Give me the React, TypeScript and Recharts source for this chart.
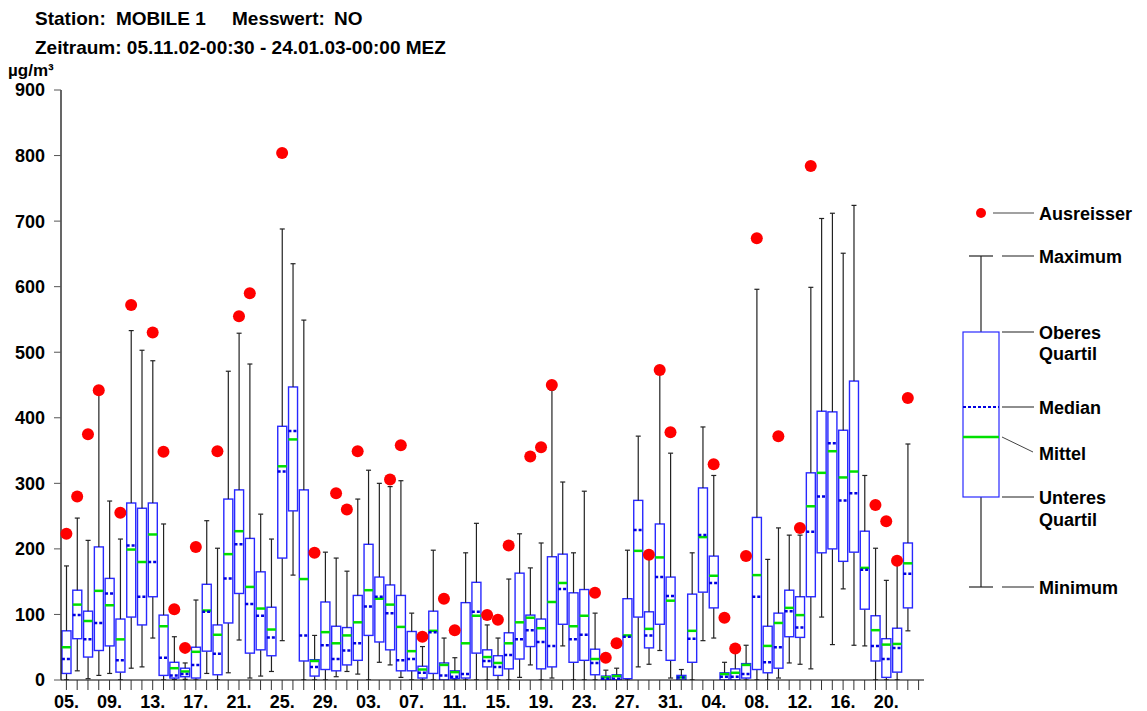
import React from "react";
import { Bar, ComposedChart, Scatter, XAxis, YAxis } from "recharts";

// one entry per day, 05.11.02 .. 23.01.03
const days = [
  "05.11", "06.11", "07.11", "08.11", "09.11", "10.11", "11.11", "12.11", "13.11", "14.11",
  "15.11", "16.11", "17.11", "18.11", "19.11", "20.11", "21.11", "22.11", "23.11", "24.11",
  "25.11", "26.11", "27.11", "28.11", "29.11", "30.11",
  "01.12", "02.12", "03.12", "04.12", "05.12", "06.12", "07.12", "08.12", "09.12", "10.12",
  "11.12", "12.12", "13.12", "14.12", "15.12", "16.12", "17.12", "18.12", "19.12", "20.12",
  "21.12", "22.12", "23.12", "24.12", "25.12", "26.12", "27.12", "28.12", "29.12", "30.12", "31.12",
  "01.01", "02.01", "03.01", "04.01", "05.01", "06.01", "07.01", "08.01", "09.01", "10.01",
  "11.01", "12.01", "13.01", "14.01", "15.01", "16.01", "17.01", "18.01", "19.01", "20.01",
  "21.01", "22.01", "23.01",
];

const mins = [
  0, 14, 2, 7, 10, 0, 18, 20, 64, 0, 1, 1, 0, 10, 0, 11, 61, 3, 6, 13,
  60, 160, 0, 0, 0, 5, 13, 9, 0, 27, 23, 4, 0, 0, 0, 0, 0, 0, 0, 0,
  0, 0, 4, 23, 0, 3, 52, 0, 0, 0, 0, 0, 0, 20, 24, 45, 3, 0, 0, 60,
  64, 0, 0, 0, 0, 0, 3, 26, 24, 17, 96, 54, 139, 53, 52, 0, 0, 0, 75, null,
];
const lowerQuartiles = [
  10, 63, 35, 45, 52, 12, 96, 84, 127, 7, 3, 5, 3, 44, 8, 87, 132, 41, 46, 37,
  186, 258, 29, 6, 16, 14, 23, 30, 68, 58, 46, 14, 14, 3, 10, 0, 2, 3, 41, 20,
  7, 17, 32, 51, 17, 20, 85, 27, 30, 8, 0, 0, 2, 96, 49, 85, 30, 0, 27, 134,
  110, 0, 0, 3, 16, 11, 18, 66, 65, 127, 194, 200, 181, 195, 108, 29, 4, 12, 110, null,
];
const medians = [
  32, 99, 62, 87, 132, 30, 205, 127, 180, 34, 7, 9, 23, 104, 40, 155, 207, 116, 98, 65,
  318, 380, 68, 20, 53, 32, 45, 56, 112, 127, 102, 30, 32, 11, 73, 7, 5, 9, 104, 29,
  20, 38, 62, 76, 58, 52, 139, 62, 69, 26, 2, 2, 66, 229, 68, 157, 128, 4, 63, 221,
  148, 5, 5, 9, 127, 27, 50, 105, 80, 226, 280, 361, 274, 285, 168, 52, 32, 49, 162, null,
];
const means = [
  50, 115, 90, 136, 114, 62, 199, 180, 222, 82, 18, 13, 43, 106, 69, 192, 227, 142, 109, 77,
  326, 367, 154, 29, 73, 56, 68, 88, 137, 124, 115, 81, 44, 16, 75, 23, 12, 56, 98, 35,
  26, 56, 88, 95, 79, 119, 148, 82, 98, 32, 4, 6, 68, 197, 78, 187, 121, 4, 75, 218,
  159, 9, 11, 23, 160, 52, 87, 110, 99, 265, 316, 349, 309, 318, 171, 76, 54, 55, 178, null,
];
const upperQuartiles = [
  75, 137, 105, 203, 155, 93, 270, 262, 270, 99, 27, 18, 50, 146, 84, 276, 290, 216, 165, 111,
  387, 447, 290, 31, 119, 82, 80, 129, 207, 157, 145, 129, 74, 21, 105, 26, 14, 118, 149, 46,
  37, 72, 163, 99, 93, 188, 192, 133, 138, 47, 6, 8, 124, 274, 104, 238, 157, 7, 131, 293,
  189, 11, 17, 25, 248, 82, 102, 137, 127, 316, 410, 409, 381, 456, 227, 98, 63, 79, 209, null,
];
const maxs = [
  174, 247, 213, 442, 273, 215, 533, 503, 487, 238, 66, 26, 122, 243, 201, 471, 529, 482, 253, 215,
  688, 635, 549, 68, 195, 186, 166, 276, 320, 300, 295, 304, 102, 51, 198, 64, 34, 194, 239, 84,
  64, 154, 223, 171, 209, 442, 302, 194, 288, 102, 15, 18, 198, 372, 187, 466, 346, 16, 194, 386,
  312, 27, 44, 53, 596, 184, 232, 221, 221, 599, 704, 712, 651, 724, 312, 201, 152, 181, 360, null,
];
// highest single value of the day, only where it lies outside the whisker
const outliers = [
  223, 280, 375, 442, null, 255, 572, null, 530, 348, 108, 49, 203, null, 349, null, 555, 590, null, null,
  804, null, null, 194, null, 285, 260, 349, null, null, 306, 358, null, 66, null, 124, 76, null, null, 99,
  92, 205, null, 341, 355, 450, null, null, null, 133, 34, 56, null, null, 191, 473, 378, null, null, null,
  329, 95, 48, 189, 674, null, 372, null, 232, 784, null, null, null, null, null, 267, 242, 182, 430, null,
];

const yTicks = [0, 100, 200, 300, 400, 500, 600, 700, 800, 900];

const rows = days.map((day, i) => {
  const lo = mins[i];
  const q1 = lowerQuartiles[i];
  const q3 = upperQuartiles[i];
  const hi = maxs[i];
  const has = lo != null;
  return {
    day,
    base: has ? lo : null,
    lowWhisker: has ? q1 - lo : null,
    box: has ? q3 - q1 : null,
    highWhisker: has ? hi - q3 : null,
    median: medians[i],
    mean: means[i],
    outlier: outliers[i],
  };
});

const FONT = '"Liberation Sans", Arial, Helvetica, sans-serif';
const BLUE = "#2828ff";
const GREEN = "#00e000";
const WHISKER = "#222";

const LowerWhisker = (p: any) => {
  if (p.payload.base == null) return <g />;
  const cx = p.x + p.width / 2;
  const yb = p.y + p.height;
  return (
    <g>
      <line x1={cx} x2={cx} y1={p.y} y2={yb} stroke={WHISKER} strokeWidth={1.2} />
      <line x1={cx - 2.5} x2={cx + 2.5} y1={yb} y2={yb} stroke={WHISKER} strokeWidth={1.2} />
    </g>
  );
};

const UpperWhisker = (p: any) => {
  if (p.payload.base == null) return <g />;
  const cx = p.x + p.width / 2;
  return (
    <g>
      <line x1={cx} x2={cx} y1={p.y} y2={p.y + p.height} stroke={WHISKER} strokeWidth={1.2} />
      <line x1={cx - 2.5} x2={cx + 2.5} y1={p.y} y2={p.y} stroke={WHISKER} strokeWidth={1.2} />
    </g>
  );
};

const BoxShape = (p: any) => {
  if (p.payload.base == null) return <g />;
  return (
    <rect x={p.x} y={p.y} width={p.width} height={Math.max(p.height, 1)}
      fill="#fff" stroke={BLUE} strokeWidth={1.4} />
  );
};

const MeanTick = (p: any) => {
  if (p.payload.mean == null || !Number.isFinite(p.cy)) return <g />;
  return <line x1={p.cx - 4.5} x2={p.cx + 4.5} y1={p.cy} y2={p.cy} stroke={GREEN} strokeWidth={2.5} />;
};

const MedianTick = (p: any) => {
  if (p.payload.median == null || !Number.isFinite(p.cy)) return <g />;
  return (
    <line x1={p.cx - 4.5} x2={p.cx + 4.5} y1={p.cy} y2={p.cy}
      stroke="#0000e0" strokeWidth={2.5} strokeDasharray="3 2" />
  );
};

const OutlierDot = (p: any) => {
  if (p.payload.outlier == null || !Number.isFinite(p.cy)) return <g />;
  return <circle cx={p.cx} cy={p.cy} r={6} fill="#ff0000" />;
};

const labelStyle = { fontFamily: FONT, fontWeight: "bold" as const, fontSize: 18, fill: "#000" };

function Header() {
  const t1 = { ...labelStyle, fontSize: 19 };
  return (
    <g>
      <text x={35} y={25} style={t1}>Station:</text>
      <text x={116} y={25} style={t1}>MOBILE 1</text>
      <text x={232} y={25} style={t1}>Messwert:</text>
      <text x={334} y={25} style={t1}>NO</text>
      <text x={35} y={54} style={t1}>Zeitraum: 05.11.02-00:30 - 24.01.03-00:00 MEZ</text>
      <text x={8} y={76} style={{ ...labelStyle, fontSize: 17 }}>µg/m³</text>
    </g>
  );
}

function BoxLegend() {
  const lx = 1039;
  const line = (y: number) => <line x1={1002} x2={1034} y1={y} y2={y} stroke="#444" strokeWidth={1.2} />;
  const txt = (y: number, s: string) => <text x={lx} y={y + 6.5} style={labelStyle}>{s}</text>;
  return (
    <g>
      <circle cx={981} cy={213} r={5} fill="#ff0000" />
      <line x1={993} x2={1034} y1={213} y2={213} stroke="#444" strokeWidth={1.2} />
      {txt(213, "Ausreisser")}

      <line x1={981} x2={981} y1={256} y2={587} stroke={WHISKER} strokeWidth={1.2} />
      <line x1={969} x2={993} y1={256} y2={256} stroke={WHISKER} strokeWidth={1.2} />
      <line x1={969} x2={993} y1={587} y2={587} stroke={WHISKER} strokeWidth={1.2} />
      <rect x={963} y={332} width={36} height={165} fill="#fff" stroke={BLUE} strokeWidth={1.2} />
      <line x1={963} x2={999} y1={407} y2={407} stroke="#0000e0" strokeWidth={2} strokeDasharray="3 2" />
      <line x1={963} x2={999} y1={437} y2={437} stroke={GREEN} strokeWidth={2.5} />

      {line(256)}
      {txt(256, "Maximum")}
      {line(332)}
      {txt(332, "Oberes")}
      {txt(353, "Quartil")}
      {line(407)}
      {txt(407, "Median")}
      <line x1={1002} x2={1033} y1={437} y2={452} stroke="#444" strokeWidth={1} />
      {txt(453, "Mittel")}
      {line(497)}
      {txt(497, "Unteres")}
      {txt(519, "Quartil")}
      {line(587)}
      {txt(587, "Minimum")}
    </g>
  );
}

export default function App() {
  return (
    <div style={{ position: "absolute", left: 0, top: 0, width: 1147, height: 711, background: "#fff", fontFamily: FONT }}>
      <ComposedChart width={1147} height={711} data={rows}
        margin={{ top: 90, right: 223, bottom: 0, left: 0 }}>
        <XAxis dataKey="day" interval={0} height={31} tickSize={10} tickMargin={5}
          axisLine={{ stroke: "#000", strokeWidth: 1.2 }}
          tickLine={{ stroke: "#333" }}
          tick={labelStyle}
          tickFormatter={(v: string, i: number) => (i % 4 === 0 ? v.slice(0, 3) : "")} />
        <YAxis domain={[0, 900]} ticks={yTicks} width={61} tickSize={7} tickMargin={9}
          allowDataOverflow
          axisLine={{ stroke: "#000", strokeWidth: 1.2 }}
          tickLine={{ stroke: "#555" }}
          tick={labelStyle} />
        <Bar dataKey="base" stackId="b" barSize={9} fill="none" isAnimationActive={false} />
        <Bar dataKey="lowWhisker" stackId="b" barSize={9} shape={LowerWhisker} isAnimationActive={false} />
        <Bar dataKey="box" stackId="b" barSize={9} shape={BoxShape} isAnimationActive={false} />
        <Bar dataKey="highWhisker" stackId="b" barSize={9} shape={UpperWhisker} isAnimationActive={false} />
        <Scatter dataKey="mean" shape={MeanTick} isAnimationActive={false} />
        <Scatter dataKey="median" shape={MedianTick} isAnimationActive={false} />
        <Scatter dataKey="outlier" shape={OutlierDot} isAnimationActive={false} />
      </ComposedChart>
      <svg width={1147} height={711} style={{ position: "absolute", left: 0, top: 0, pointerEvents: "none" }}>
        <Header />
        <BoxLegend />
      </svg>
    </div>
  );
}
